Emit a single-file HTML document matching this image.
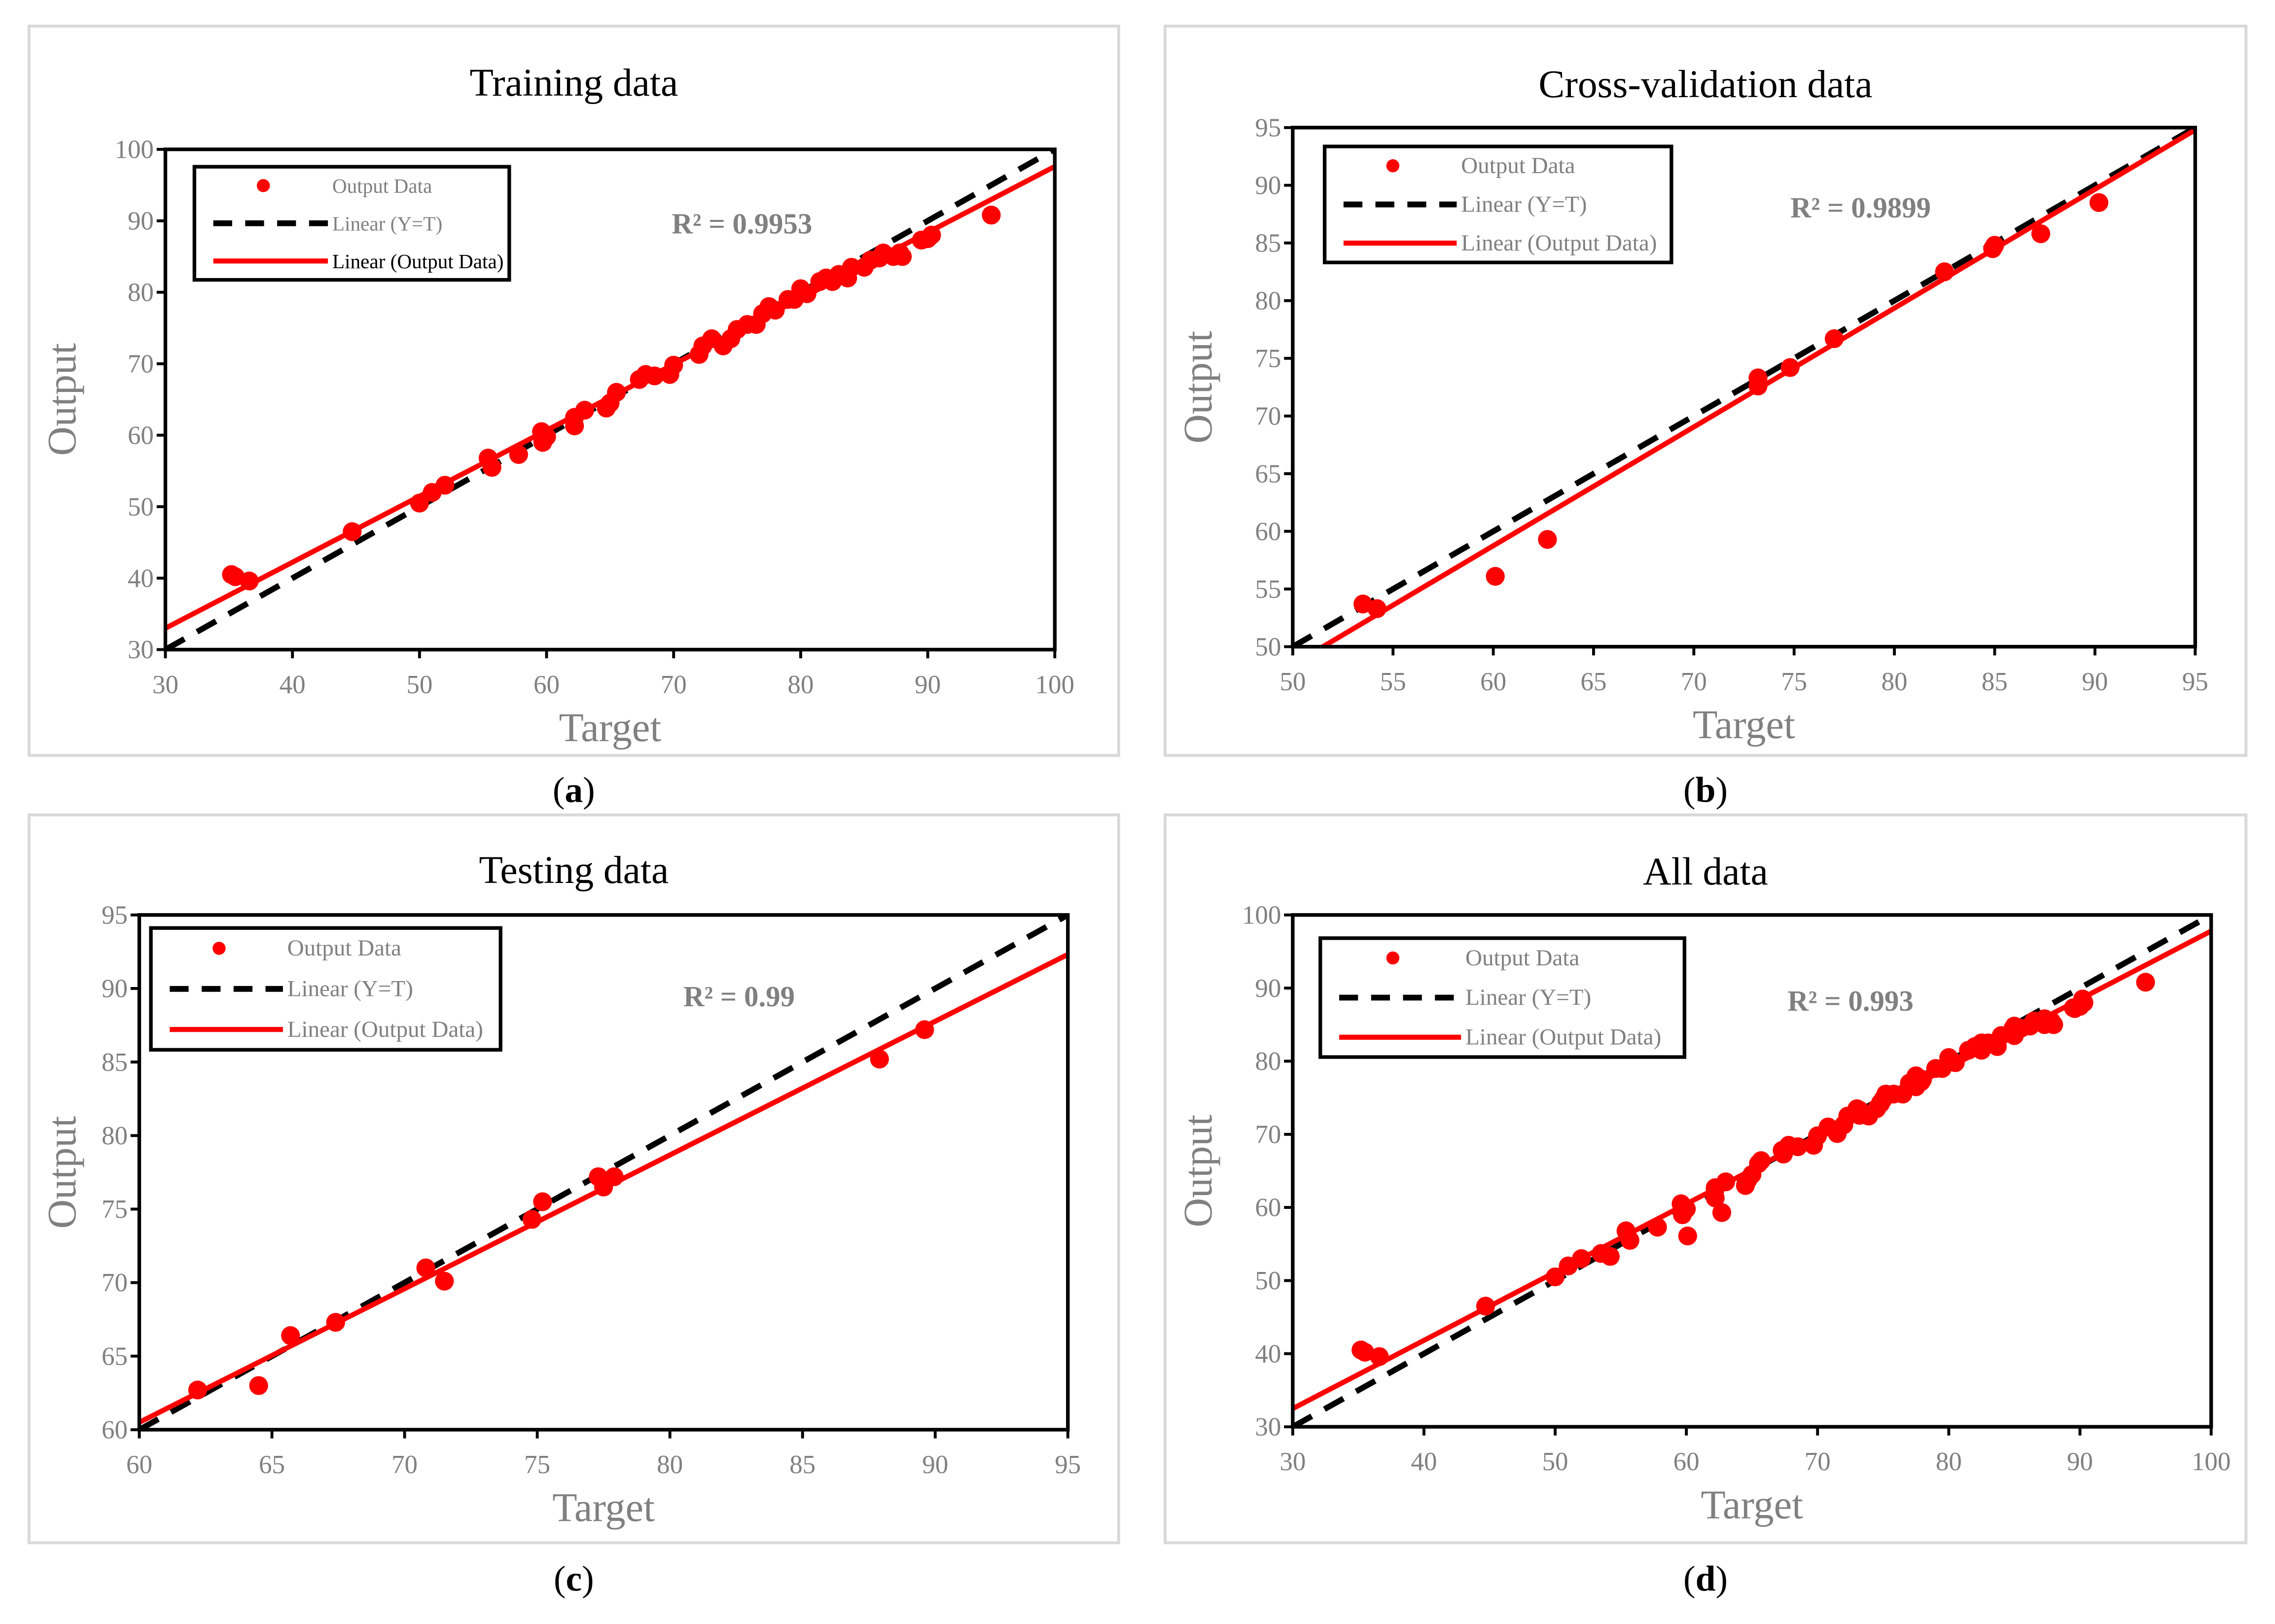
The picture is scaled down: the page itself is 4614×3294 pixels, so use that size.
<!DOCTYPE html>
<html><head><meta charset="utf-8"><style>
html,body{margin:0;padding:0;background:#fff}
svg{display:block}
text{font-family:"Liberation Serif",serif}
</style></head><body>
<svg id="fig" width="4614" height="3294" viewBox="0 0 1568 1120" preserveAspectRatio="none" xmlns="http://www.w3.org/2000/svg"></svg>
<script>
const trainX=[35.2,35.5,36.6,44.7,50,51,52,55.4,55.7,57.8,59.6,59.7,60,62.2,62.2,63,64.7,65,65.5,67.3,67.8,68.5,69.7,70,72,72.3,73,73.9,74.5,75,75.8,76.5,77,77.5,78,79,79.5,80,80.5,81.5,82,82.5,83,83.7,84,85,85.5,86.2,86.5,87.3,87.8,88,89.5,90,90.3,95];
const trainY=[40.5,40.2,39.6,46.5,50.5,52,53,56.8,55.5,57.3,60.5,59,59.8,61.3,62.5,63.5,63.8,64.5,66,67.8,68.5,68.3,68.5,69.8,71.3,72.5,73.5,72.5,73.5,74.8,75.5,75.5,77,78,77.5,79,79,80.5,79.8,81.5,82,81.5,82.5,82,83.5,83.5,84.5,84.8,85.5,85,85.5,85,87.3,87.5,88,90.8];
const cvX=[53.5,54.2,60.1,62.7,73.2,73.2,74.8,77,82.5,84.9,85,87.3,90.2];
const cvY=[53.7,53.3,56.1,59.3,73.3,72.6,74.2,76.7,82.5,84.5,84.8,85.8,88.5];
const testX=[62.2,64.5,65.7,67.4,70.8,71.5,74.8,75.2,77.3,77.5,77.9,87.9,89.6];
const testY=[62.7,63,66.4,67.3,71,70.1,74.3,75.5,77.2,76.5,77.2,85.2,87.2];
const allX=trainX.concat(cvX,testX);
const allY=trainY.concat(cvY,testY);
const ticksA=[30,40,50,60,70,80,90,100];
const ticksB=[50,55,60,65,70,75,80,85,90,95];
const fitA=[0.923,5.3], fitB=[1.03,-3.05], fitC=[0.909,5.96], fitD=[0.933,4.5];
const NS="http://www.w3.org/2000/svg";
const svg=document.getElementById('fig');
function el(tag,attrs,parent,txt){const e=document.createElementNS(NS,tag);for(const k in attrs)e.setAttribute(k,attrs[k]);if(txt!==undefined)e.textContent=txt;(parent||svg).appendChild(e);return e;}
function panel(p){
  const g=el('g',{});
  
  
  const frame=el('rect',{x:p.box[0],y:p.box[1],width:p.box[2]-p.box[0],height:p.box[3]-p.box[1],fill:'#fff',stroke:'#d9d9d9','stroke-width':2},g);
  
  
  const [x0,y0,x1,y1]=p.plot;const lo=p.ticks[0],hi=p.ticks[p.ticks.length-1];
  const sx=v=>x0+(v-lo)/(hi-lo)*(x1-x0), sy=v=>y1-(v-lo)/(hi-lo)*(y1-y0);
  const t=el('text',{x:(p.box[0]+p.box[2])/2,y:p.titleY,'text-anchor':'middle','font-size':27,fill:'#000'},g,p.title);
  
  
  const cp=document.createElementNS(NS,'clipPath');cp.setAttribute('id','c'+p.id);g.appendChild(cp);
  el('rect',{x:x0,y:y0,width:x1-x0,height:y1-y0},cp);
  const inner=el('g',{'clip-path':'url(#c'+p.id+')'},g);
  const idl=el('line',{x1:sx(lo),y1:sy(lo),x2:sx(hi),y2:sy(hi),stroke:'#000','stroke-width':4,'stroke-dasharray':'15 10'},inner);
  
  
  p.xs.forEach((xv,i)=>{const c=el('circle',{cx:sx(xv),cy:sy(p.ys[i]),r:6.5,fill:'#ff0000'},inner);
    
    });
  const fl=el('line',{x1:sx(lo),y1:sy(p.fit[0]*lo+p.fit[1]),x2:sx(hi),y2:sy(p.fit[0]*hi+p.fit[1]),stroke:'#ff0000','stroke-width':3.5},inner);
  
  
  const ax=el('rect',{x:x0,y:y0,width:x1-x0,height:y1-y0,fill:'none',stroke:'#000','stroke-width':2.5},g);
  
  
  p.ticks.forEach(v=>{
    el('line',{x1:sx(v),y1:y1,x2:sx(v),y2:y1+6,stroke:'#000','stroke-width':2},g);
    el('line',{x1:x0-6,y1:sy(v),x2:x0,y2:sy(v),stroke:'#000','stroke-width':2},g);
    const xt=el('text',{x:sx(v),y:y1+30,'text-anchor':'middle','font-size':18,fill:'#808080'},g,v);
    
    
    const yt=el('text',{x:x0-8,y:sy(v)+6,'text-anchor':'end','font-size':18,fill:'#808080'},g,v);
    
    
  });
  const xl=el('text',{x:(x0+x1)/2,y:y1+63,'text-anchor':'middle','font-size':28,fill:'#808080'},g,'Target');
  
  
  const yx=p.box[0]+32, yy=(y0+y1)/2;
  const yl=el('text',{x:yx,y:yy,'text-anchor':'middle','font-size':28,fill:'#808080',transform:`rotate(-90 ${yx} ${yy})`},g,'Output');
  
  
  const r=el('text',{x:p.r2[0],y:p.r2[1],'font-size':20,'font-weight':'bold',fill:'#808080'},g,p.r2t);
  
  
  const [lx0,ly0,lx1,ly1]=p.leg;const lg=el('g',{},g);
  
  
  el('rect',{x:lx0,y:ly0,width:lx1-lx0,height:ly1-ly0,fill:'#fff',stroke:'#000','stroke-width':2.5},lg);
  const rh=(ly1-ly0)/3, fs=p.legfs;
  el('circle',{cx:lx0+(p.legTx-lx0)*0.5,cy:ly0+rh*0.5,r:4.5,fill:'#ff0000'},lg);
  el('line',{x1:lx0+13,y1:ly0+rh*1.5,x2:p.legTx-3,y2:ly0+rh*1.5,stroke:'#000','stroke-width':4,'stroke-dasharray':'13 9'},lg);
  el('line',{x1:lx0+13,y1:ly0+rh*2.5,x2:p.legTx-3,y2:ly0+rh*2.5,stroke:'#ff0000','stroke-width':3.5},lg);
  const names=['Output Data','Linear (Y=T)','Linear (Output Data)'];
  names.forEach((n,i)=>{const e=el('text',{x:p.legTx,y:ly0+rh*(i+0.5)+5,'font-size':fs,fill:i==2&&p.id=='a'?'#000':'#808080'},lg,n);
    
    });
  const cap=el('text',{x:(p.box[0]+p.box[2])/2,y:p.capY,'text-anchor':'middle','font-size':25,fill:'#000'},g);
  
  
  el('tspan',{},cap,'(');el('tspan',{'font-weight':'bold'},cap,p.id);el('tspan',{},cap,')');
}
panel({id:'a',name:'training-panel',title:'Training data',box:[20,18,771,521],plot:[114,103,727,448],ticks:ticksA,xs:trainX,ys:trainY,fit:fitA,titleY:66,r2:[463,161],r2t:'R² = 0.9953',leg:[134,115,351,193],legTx:229,legfs:14,capY:553});
panel({id:'b',name:'cross-validation-panel',title:'Cross-validation data',box:[803,18,1548,521],plot:[891,88,1513,446],ticks:ticksB,xs:cvX,ys:cvY,fit:fitB,titleY:67,r2:[1234,150],r2t:'R² = 0.9899',leg:[913,101,1152,181],legTx:1007,legfs:16,capY:553});
panel({id:'c',name:'testing-panel',title:'Testing data',box:[20,562,771,1064],plot:[96,631,736,986],ticks:ticksB.slice(2),xs:testX,ys:testY,fit:fitC,titleY:609,r2:[471,694],r2t:'R² = 0.99',leg:[104,640,345,724],legTx:198,legfs:16,capY:1097});
panel({id:'d',name:'all-data-panel',title:'All data',box:[803,562,1548,1064],plot:[891,631,1524,984],ticks:ticksA,xs:allX,ys:allY,fit:fitD,titleY:610,r2:[1232,697],r2t:'R² = 0.993',leg:[910,647,1161,729],legTx:1010,legfs:16,capY:1097});
</script>
</body></html>
